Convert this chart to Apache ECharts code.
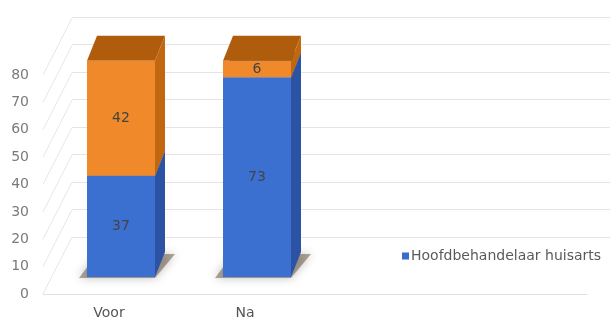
<!DOCTYPE html>
<html lang="nl">
<head>
<meta charset="UTF-8">
<title>Hoofdbehandelaar</title>
<script src="https://cdn.jsdelivr.net/npm/echarts@6/dist/echarts.min.js"></script>
<style>
  html, body { margin: 0; padding: 0; background: #fff; }
</style>
</head>
<body>
<div id="main" style="width: 612px;height:322px;"></div>
<script type="text/javascript">
    const categories = ['Voor', 'Na']
    const huisarts = [37, 73]
    const overig = [42, 6]
    const yTicks = [0, 10, 20, 30, 40, 50, 60, 70, 80]

    // 3d look: depth offsets (pixels)
    const barShiftX = 12, barShiftY = -17
    const depthX = 10, depthY = -25
    const halfW = 34
    const font = 'DejaVu Sans'

    function stackData(vals, below) {
        return vals.map((v, i) => {
            const start = below ? below[i] : 0
            return [i, start, start + v, v]
        })
    }
    const blueData = stackData(huisarts)
    const orangeData = stackData(overig, huisarts)

    function makeBar(front, side, top) {
        return function (params, api) {
            const idx = api.value(0)
            const p0 = api.coord([idx, api.value(1)])
            const p1 = api.coord([idx, api.value(2)])
            const cx = p0[0] + barShiftX
            const yb = p0[1] + barShiftY
            const yt = p1[1] + barShiftY
            const x0 = cx - halfW, x1 = cx + halfW
            const children = []
            if (api.value(1) === 0) {
                // schaduw onder de balk
                children.push({
                    type: 'polygon',
                    shape: { points: [[x0 - 8, yb + 1], [x1, yb + 1], [x1 + 20, yb + depthY + 2], [x0 + 10, yb + depthY + 2]] },
                    style: { fill: 'rgba(80,60,40,0.45)', shadowBlur: 10, shadowColor: 'rgba(40,30,20,0.6)' }
                })
            }
            children.push({
                type: 'polygon',
                shape: { points: [[x1, yb], [x1 + depthX, yb + depthY], [x1 + depthX, yt + depthY], [x1, yt]] },
                style: { fill: side }
            })
            children.push({
                type: 'polygon',
                shape: { points: [[x0, yt], [x1, yt], [x1 + depthX, yt + depthY], [x0 + depthX, yt + depthY]] },
                style: { fill: top }
            })
            children.push({
                type: 'rect',
                shape: { x: x0, y: yt, width: x1 - x0, height: yb - yt },
                style: { fill: front },
                textContent: {
                    style: { text: String(api.value(3)), fill: '#444', fontSize: 14, fontFamily: font }
                },
                textConfig: { position: 'inside' }
            })
            return { type: 'group', children: children }
        }
    }

    var myChart = echarts.init(document.getElementById('main'));

    var option = {
        animation: false,
        textStyle: { fontFamily: font },
        legend: {
            data: ['Hoofdbehandelaar huisarts'],
            left: 397,
            top: 244,
            itemWidth: 7,
            itemHeight: 7,
            icon: 'rect',
            textStyle: { color: '#5a5a5a', fontSize: 14, fontFamily: font, padding: [0, 0, 0, -3] }
        },
        grid: [
            { left: 41, width: 272, top: 75, bottom: 28 },   // voorvlak (labels + balken)
            { left: 72, right: 2, top: 17, bottom: 85 },     // achterwand
            { left: 43, right: 25, top: 75, bottom: 28 }     // voorrand vloer
        ],
        xAxis: [
            {
                gridIndex: 0, type: 'category', data: categories,
                axisLine: { show: false }, axisTick: { show: false },
                axisLabel: { color: '#555', fontSize: 14, fontFamily: font, margin: 12 }
            },
            { gridIndex: 1, type: 'value', show: false, min: 0, max: 1 },
            {
                gridIndex: 2, type: 'value', min: 0, max: 1,
                axisLine: { show: true, lineStyle: { color: '#e2e2e2' } },
                axisTick: { show: false }, axisLabel: { show: false }, splitLine: { show: false }
            }
        ],
        yAxis: [
            {
                gridIndex: 0, type: 'value', min: 0, max: 80, interval: 10,
                axisLine: { show: false }, axisTick: { show: false }, splitLine: { show: false },
                axisLabel: { color: '#7a7a7a', fontSize: 14, fontFamily: font, margin: 12, padding: [5, 0, 0, 0] }
            },
            {
                gridIndex: 1, type: 'value', min: 0, max: 80, interval: 10,
                axisLine: { show: false }, axisTick: { show: false }, axisLabel: { show: false },
                splitLine: { show: true, lineStyle: { color: '#e4e4e4' } }
            },
            { gridIndex: 2, type: 'value', show: false, min: 0, max: 80 }
        ],
        series: [
            {
                name: 'diagonaal',
                type: 'custom',
                xAxisIndex: 0, yAxisIndex: 0,
                silent: true,
                data: yTicks.map(v => [0, v]),
                renderItem: function (params, api) {
                    const y = api.coord([0, api.value(1)])[1]
                    const x = params.coordSys.x + 2
                    return {
                        type: 'line',
                        shape: { x1: x, y1: y, x2: x + 29, y2: y - 57 },
                        style: { stroke: '#e6e6e6', lineWidth: 1 }
                    }
                },
                z: 1
            },
            {
                name: 'Hoofdbehandelaar huisarts',
                type: 'custom',
                xAxisIndex: 0, yAxisIndex: 0,
                itemStyle: { color: '#3a6cc9' },
                data: blueData,
                renderItem: makeBar('#3b6fd0', '#2b52a3', '#2f5bb0'),
                z: 3
            },
            {
                name: 'Overig',
                type: 'custom',
                xAxisIndex: 0, yAxisIndex: 0,
                itemStyle: { color: '#ef8a25' },
                data: orangeData,
                renderItem: makeBar('#f0892a', '#c0670f', '#b05c0d'),
                z: 3
            }
        ]
    };

    myChart.setOption(option);
</script>
</body>
</html>
